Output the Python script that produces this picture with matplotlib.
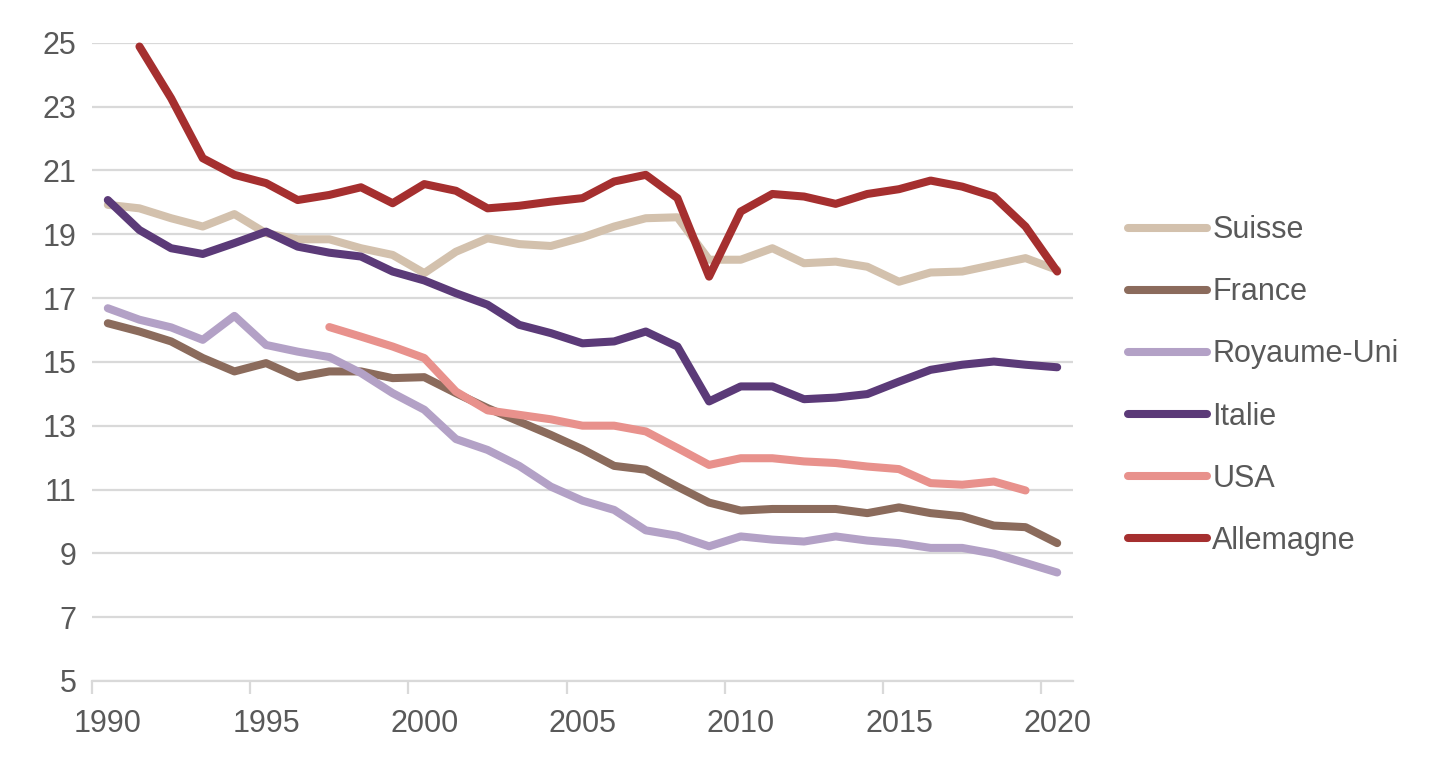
import matplotlib
matplotlib.use("Agg")
import matplotlib.pyplot as plt
import numpy as np

years = list(range(1990, 2021))

suisse = [19.92, 19.81, 19.50, 19.24, 19.63, 19.03, 18.84, 18.84, 18.56, 18.35,
          17.78, 18.45, 18.87, 18.69, 18.63, 18.90, 19.24, 19.50, 19.53, 18.20,
          18.20, 18.56, 18.09, 18.14, 17.98, 17.51, 17.80, 17.83, 18.04, 18.25, 17.88]
france = [16.21, 15.95, 15.64, 15.12, 14.70, 14.96, 14.52, 14.70, 14.70, 14.49,
          14.52, 14.02, 13.55, 13.13, 12.71, 12.26, 11.74, 11.62, 11.09, 10.59,
          10.34, 10.39, 10.39, 10.39, 10.26, 10.44, 10.26, 10.16, 9.87, 9.82, 9.32]
royaume_uni = [16.68, 16.32, 16.08, 15.69, 16.44, 15.53, 15.32, 15.15, 14.65, 14.02,
               13.50, 12.58, 12.24, 11.74, 11.09, 10.65, 10.36, 9.72, 9.55, 9.22,
               9.53, 9.43, 9.37, 9.53, 9.40, 9.32, 9.17, 9.17, 8.99, 8.70, 8.40]
italie = [20.07, 19.13, 18.56, 18.38, 18.72, 19.08, 18.61, 18.42, 18.30, 17.83,
          17.55, 17.15, 16.79, 16.16, 15.90, 15.58, 15.64, 15.95, 15.48, 13.76,
          14.23, 14.23, 13.83, 13.88, 13.99, 14.38, 14.75, 14.91, 15.01, 14.91, 14.83]
usa = [np.nan] * 7 + [16.09, 15.79, 15.48, 15.12, 14.07, 13.48, 13.34, 13.20, 13.00,
                      13.00, 12.82, 12.30, 11.77, 11.98, 11.98, 11.88, 11.83, 11.72,
                      11.64, 11.20, 11.15, 11.25, 10.97] + [np.nan]
allemagne = [np.nan] + [24.88, 23.26, 21.38, 20.86, 20.60, 20.07, 20.23, 20.47, 19.97,
                        20.57, 20.36, 19.81, 19.89, 20.02, 20.13, 20.65, 20.86, 20.13,
                        17.67, 19.71, 20.26, 20.18, 19.95, 20.26, 20.41, 20.68, 20.49,
                        20.18, 19.24, 17.83]

series = [
    ("Suisse", suisse, "#D3C1AD"),
    ("France", france, "#8B6B5C"),
    ("Royaume-Uni", royaume_uni, "#B3A1C6"),
    ("Italie", italie, "#5B3A78"),
    ("USA", usa, "#E8918C"),
    ("Allemagne", allemagne, "#A52F2F"),
]

plt.rcParams["font.family"] = ["Liberation Sans", "DejaVu Sans"]

W, H = 1440, 767
fig = plt.figure(figsize=(W / 100, H / 100), dpi=100)
ax = fig.add_axes([92 / W, 1 - 681 / H, (1073 - 92) / W, (681 - 42.7) / H])

x = np.arange(len(years))
for i, (name, vals, col) in enumerate(series):
    ax.plot(x, np.array(vals, dtype=float), color=col, lw=5.8, label=name,
            solid_capstyle="round", solid_joinstyle="round", zorder=3 + i,
            clip_on=False)

ax.set_xlim(-0.5, len(years) - 0.5)
ax.set_ylim(5, 25)
ax.set_yticks(np.arange(5, 26, 2))
ax.yaxis.grid(True, color="#D9D9D9", lw=1.6, zorder=1)
ax.tick_params(axis="y", length=0, labelsize=22, labelcolor="#595959", pad=11)

# tick marks at category boundaries, labels at category centers
ax.set_xticks(np.arange(-0.5, len(years) - 1, 5))
ax.set_xticklabels([])
ax.set_xticks(np.arange(0, len(years), 5), minor=True)
ax.set_xticklabels([str(years[i]) for i in range(0, len(years), 5)], minor=True)
ax.tick_params(axis="x", which="major", length=9, width=1.6, color="#D9D9D9")
ax.tick_params(axis="x", which="minor", length=0, labelsize=22,
               labelcolor="#595959", pad=20)

for s in ["top", "right", "left"]:
    ax.spines[s].set_visible(False)
ax.spines["bottom"].set_color("#D9D9D9")
ax.spines["bottom"].set_linewidth(1.6)
ax.set_axisbelow(True)

leg = ax.legend(loc="center left", bbox_to_anchor=(1128 / W, 1 - 385.5 / H),
                bbox_transform=fig.transFigure, frameon=False, fontsize=22,
                handlelength=2.6, handletextpad=0.16, labelspacing=1.05,
                borderpad=0, borderaxespad=0)
for t in leg.get_texts():
    t.set_color("#595959")

fig.savefig("out.png", dpi=100)
